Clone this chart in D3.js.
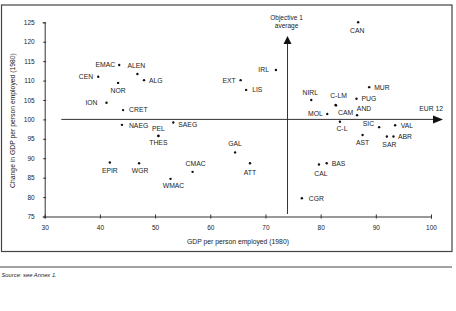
<!DOCTYPE html>
<html>
<head>
<meta charset="utf-8">
<script src="https://cdn.jsdelivr.net/npm/d3@7"></script>
<style>
	body { margin: 0; background: #fff; }
	text { font-family: "Liberation Sans", Arial, sans-serif; fill: #222; }
</style>
</head>
<body>
<div id="chart"></div>
<script>
// regions, GDP per person employed (1980) and change (1980 = 100)
var regions = ["EMAC", "ALEN", "ALG", "CEN", "NOR", "ION", "CRET", "NAEG", "SAEG", "PEL", "THES",
	"EPIR", "WGR", "WMAC", "CMAC", "CAN", "IRL", "EXT", "LIS", "MUR", "NIRL", "C-LM", "CAM", "PUG",
	"MOL", "AND", "C-L", "SIC", "VAL", "ABR", "SAR", "AST", "GAL", "ATT", "CAL", "BAS", "CGR"];
var gdp1980 = [43.5, 46.8, 48.0, 39.7, 43.3, 41.2, 44.2, 44.0, 53.3, 50.6, 50.6,
	41.8, 47.1, 52.8, 56.8, 86.8, 71.9, 65.5, 66.5, 88.8, 78.3, 82.7, 82.8, 86.5,
	81.2, 86.6, 83.5, 90.6, 93.5, 93.2, 92.0, 87.6, 64.5, 67.2, 79.7, 81.1, 76.6];
var change = [114.0, 111.7, 110.1, 111.0, 109.4, 104.3, 102.4, 98.6, 99.2, 95.8, 95.7,
	88.9, 88.7, 84.7, 86.5, 125.0, 112.7, 110.1, 107.6, 108.3, 105.0, 103.7, 103.6, 105.3,
	101.4, 101.1, 99.4, 98.0, 98.5, 95.6, 95.6, 96.0, 91.5, 88.7, 88.4, 88.7, 79.7];

var xTicks = [30, 40, 50, 60, 70, 80, 90, 100];
var yTicks = [75, 80, 85, 90, 95, 100, 105, 110, 115, 120, 125];
var eur12 = 100, obj1 = 74.0;

// label placement: anchor, dx, dy (px from the dot)
var labelAnchor = ["end", "middle", "start", "end", "middle", "end", "start", "start", "start", "middle", "middle",
	"middle", "middle", "middle", "middle", "middle", "end", "end", "start", "start", "middle", "middle", "start", "start",
	"end", "middle", "middle", "end", "start", "start", "middle", "middle", "middle", "middle", "middle", "start", "start"];
var labelDx = [-4, -1, 5, -5, 0, -9, 6, 7, 5, 0, 0,
	0, 1, 3, 3, -1, -7, -5, 6, 5, -1, 3, 2, 5,
	-4.5, 7, 2, -5, 5.5, 4.5, 2.5, 0, 0, 0, 2, 5, 7];
var labelDy = [0, -8.5, 0, -0.5, 8, 0, 0, 0.5, 2, -7.5, 6.8,
	8, 7.5, 6.8, -7.8, 8.8, 0, 0, 0, 0, -7.5, -9.3, 7, 0,
	0, -6.8, 7, -3.7, 0, 0, 7.7, 8, -8.3, 9, 9, 0, 0];

var width = 456, height = 311;

var svg = d3.select("#chart")
	.append("svg")
	.attr("width", width)
	.attr("height", height);

var x = d3.scaleLinear().domain([30, 100]).range([44.7, 431]);
var y = d3.scaleLinear().domain([75, 125]).range([216.5, 22.3]);

// frame round the figure, and the rule above the source note
svg.append("rect")
	.attr("x", 1.5).attr("y", 5)
	.attr("width", 450.5).attr("height", 246.5)
	.attr("fill", "none")
	.attr("stroke", "#444")
	.attr("stroke-width", 1.2);

svg.append("line")
	.attr("x1", 0).attr("x2", 452)
	.attr("y1", 267).attr("y2", 267)
	.attr("stroke", "#444");

svg.append("text")
	.attr("x", 1.5).attr("y", 276.5)
	.style("font-size", "5.8px")
	.style("font-style", "italic")
	.text("Source: see Annex 1.");

// axes
var xAxis = svg.append("g")
	.attr("transform", "translate(0," + y(75) + ")")
	.call(d3.axisBottom(x).tickValues(xTicks).tickSize(2).tickPadding(8));

var yAxis = svg.append("g")
	.attr("transform", "translate(" + x(30) + ",0)")
	.call(d3.axisLeft(y).tickValues(yTicks).tickSize(2).tickPadding(8));

[xAxis, yAxis].forEach(function(g) {
	g.select(".domain").attr("stroke", "#333").attr("stroke-width", 1);
	g.selectAll(".tick line").attr("stroke", "#333");
	g.selectAll(".tick text")
		.style("font-family", "'Liberation Sans', Arial, sans-serif")
		.style("font-size", "6.5px")
		.attr("fill", "#222");
});
xAxis.selectAll(".tick line").attr("y1", -2).attr("y2", 2);
yAxis.selectAll(".tick line").attr("x1", -1.5).attr("x2", 1.5);
xAxis.selectAll(".tick text").attr("y", 9);

svg.append("text")
	.attr("x", 238).attr("y", 243.5)
	.attr("text-anchor", "middle")
	.style("font-size", "6.8px")
	.text("GDP per person employed (1980)");

svg.append("text")
	.attr("transform", "translate(15," + 120.5 + ") rotate(-90)")
	.attr("text-anchor", "middle")
	.style("font-size", "6.8px")
	.text("Change in GDP per person employed (1980)");

// reference lines with arrows
svg.append("line")
	.attr("x1", x(33)).attr("x2", 434)
	.attr("y1", y(eur12)).attr("y2", y(eur12))
	.attr("stroke", "#333").attr("stroke-width", 1);
svg.append("path")
	.attr("d", "M433," + (y(eur12) - 4) + "L443," + y(eur12) + "L433," + (y(eur12) + 4) + "Z")
	.attr("fill", "#111");
svg.append("text")
	.attr("x", 443).attr("y", y(eur12) - 8)
	.attr("text-anchor", "end")
	.style("font-size", "6.8px")
	.text("EUR 12");

svg.append("line")
	.attr("x1", x(obj1)).attr("x2", x(obj1))
	.attr("y1", 214).attr("y2", 43)
	.attr("stroke", "#333").attr("stroke-width", 1);
svg.append("path")
	.attr("d", "M" + (x(obj1) - 4) + ",44L" + x(obj1) + ",36L" + (x(obj1) + 4) + ",44Z")
	.attr("fill", "#111");
svg.append("text")
	.attr("x", x(obj1) - 1).attr("y", 19.5)
	.attr("text-anchor", "middle")
	.style("font-size", "6.5px")
	.text("Objective 1");
svg.append("text")
	.attr("x", x(obj1) - 1).attr("y", 28)
	.attr("text-anchor", "middle")
	.style("font-size", "6.5px")
	.text("average");

// points and labels
var data = regions.map(function(r, i) {
	return { name: r, gdp: gdp1980[i], chg: change[i], anchor: labelAnchor[i], dx: labelDx[i], dy: labelDy[i] };
});

svg.selectAll(".dot")
	.data(data)
	.enter().append("circle")
	.attr("class", "dot")
	.attr("cx", function(d) { return x(d.gdp); })
	.attr("cy", function(d) { return y(d.chg); })
	.attr("r", 1.2)
	.attr("fill", "#111");

svg.selectAll(".lab")
	.data(data)
	.enter().append("text")
	.attr("class", "lab")
	.attr("x", function(d) { return x(d.gdp) + d.dx; })
	.attr("y", function(d) { return y(d.chg) + d.dy; })
	.attr("dy", "0.35em")
	.attr("text-anchor", function(d) { return d.anchor; })
	.style("font-size", "6.8px")
	.text(function(d) { return d.name; });
</script>
</body>
</html>
